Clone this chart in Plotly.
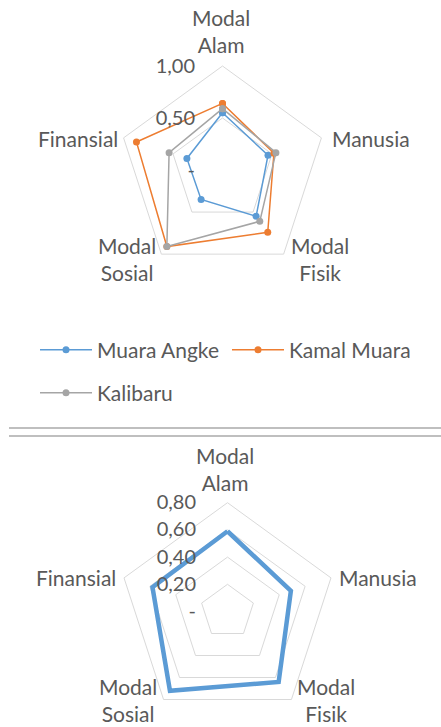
import plotly.graph_objects as go

categories = ["Modal<br>Alam", "Manusia", "Modal<br>Fisik", "Modal<br>Sosial", "Finansial"]

muara_angke = [0.55, 0.46, 0.55, 0.35, 0.36]
kamal_muara = [0.64, 0.52, 0.74, 0.91, 0.87]
kalibaru = [0.59, 0.54, 0.61, 0.91, 0.54]
rata_rata = [0.59, 0.49, 0.64, 0.72, 0.58]

top_tickvals = [0, 0.5, 1.0]
top_ticktext = ["-", "0,50", "1,00"]
bot_tickvals = [0, 0.2, 0.4, 0.6, 0.8]
bot_ticktext = ["-", "0,20", "0,40", "0,60", "0,80"]

BLUE = "#5B9BD5"
ORANGE = "#ED7D31"
GREY = "#A5A5A5"
TXT = "#595959"
GRID = "#D9D9D9"
FONT = "Lato"

W, H = 441, 727

def closed(v):
    return list(v) + [v[0]]

cats_c = closed(categories)

fig = go.Figure()
for name, vals, col, lg in [("Muara Angke", muara_angke, BLUE, "legend"),
                            ("Kamal Muara", kamal_muara, ORANGE, "legend"),
                            ("Kalibaru", kalibaru, GREY, "legend2")]:
    fig.add_trace(go.Scatterpolar(
        r=closed(vals), theta=cats_c, name=name, mode="lines+markers",
        line=dict(color=col, width=1.5),
        marker=dict(color=col, size=7, symbol="circle"),
        subplot="polar", legend=lg))

fig.add_trace(go.Scatterpolar(
    r=closed(rata_rata), theta=cats_c, name="Rata-rata", mode="lines",
    line=dict(color=BLUE, width=4.5), subplot="polar2", showlegend=False))

def px_dom(cx, cy, R):
    return dict(x=[(cx - R) / W, (cx + R) / W], y=[1 - (cy + R) / H, 1 - (cy - R) / H])

def polar_cfg(cx, cy, R, rng, tv, tt, tl):
    return dict(
        domain=px_dom(cx, cy, R),
        gridshape="linear",
        bgcolor="rgba(0,0,0,0)",
        radialaxis=dict(range=rng, tickvals=tv, ticktext=tt, angle=90, side="counterclockwise",
                        showline=False, showgrid=True, gridcolor=GRID, gridwidth=1,
                        ticks="outside", ticklen=tl, tickcolor="rgba(0,0,0,0)",
                        tickfont=dict(family=FONT, size=20, color=TXT), tickangle=90),
        angularaxis=dict(rotation=90, direction="clockwise", showgrid=False,
                         showline=True, linecolor=GRID, linewidth=1, ticks="",
                         showticklabels=False),
    )

# category label placement (paper px: x, y-center, anchor)
top_label_pos = [(221, 31.5, "center"), (330, 138, "left"), (320, 258.5, "center"),
                 (127, 258.5, "center"), (120, 138, "right")]
bot_label_pos = [(225, 469, "center"), (337, 577, "left"), (326, 700, "center"),
                 (128, 700, "center"), (118, 577, "right")]

annotations = []
for pos in (top_label_pos, bot_label_pos):
    for cat, (x, y, anc) in zip(categories, pos):
        annotations.append(dict(text=cat, x=x / W, y=1 - y / H, xref="paper", yref="paper",
                                xanchor=anc, yanchor="middle", align="center", showarrow=False,
                                font=dict(family=FONT, size=21, color=TXT)))

fig.update_layout(
    width=W, height=H,
    margin=dict(l=0, r=0, t=0, b=0),
    paper_bgcolor="white", plot_bgcolor="white",
    separators=",.",
    font=dict(family=FONT, color=TXT),
    polar=polar_cfg(222.5, 170, 104, [0, 1.0], top_tickvals, top_ticktext, 20),
    polar2=polar_cfg(227.5, 611.5, 108.8, [0, 0.8], bot_tickvals, bot_ticktext, 24),
    legend=dict(orientation="h", x=35 / W, y=1 - 350 / H, xanchor="left", yanchor="middle",
                font=dict(family=FONT, size=21, color=TXT), bgcolor="rgba(0,0,0,0)",
                entrywidth=125, itemwidth=52),
    legend2=dict(orientation="h", x=35 / W, y=1 - 393 / H, xanchor="left", yanchor="middle",
                 font=dict(family=FONT, size=21, color=TXT), bgcolor="rgba(0,0,0,0)",
                 itemwidth=52),
    annotations=annotations,
    shapes=[
        dict(type="line", xref="paper", yref="paper", x0=9 / W, x1=1, y0=1 - 428 / H, y1=1 - 428 / H,
             line=dict(color="#BFBFBF", width=2)),
        dict(type="line", xref="paper", yref="paper", x0=9 / W, x1=1, y0=1 - 436 / H, y1=1 - 436 / H,
             line=dict(color="#BFBFBF", width=2)),
    ],
)

fig.write_html("out.html", config={"displayModeBar": False},
               post_script="document.body.style.margin='0';")
